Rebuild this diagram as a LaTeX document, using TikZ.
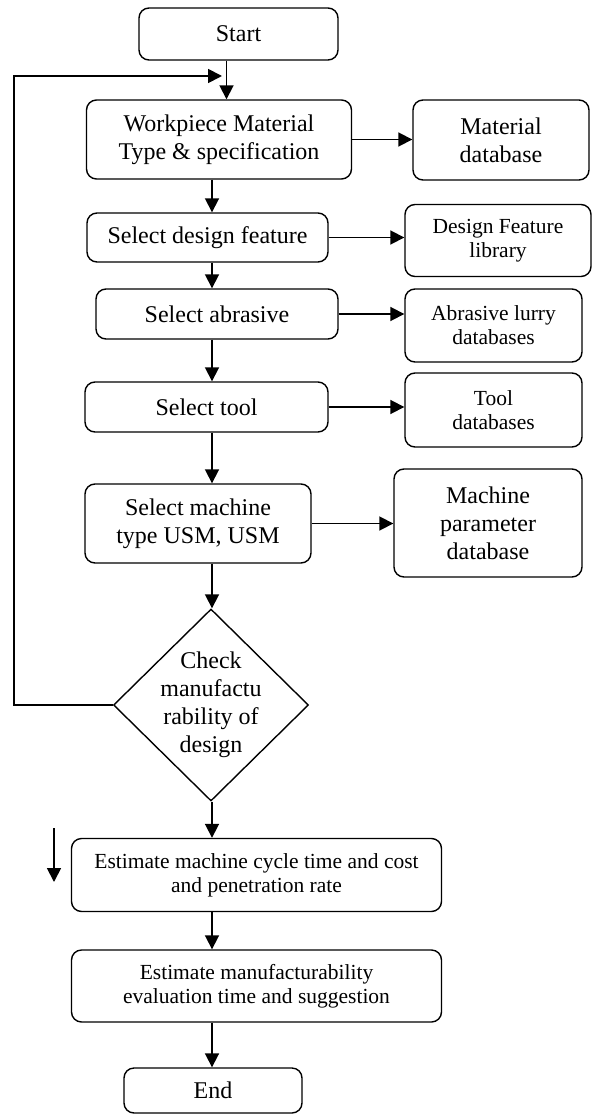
\documentclass[tikz,border=0pt]{standalone}
\usepackage{fontspec}
\setmainfont{Liberation Serif}
\usetikzlibrary{arrows.meta,shapes.geometric}

\begin{document}
\begin{tikzpicture}[x=1pt,y=-1pt,
    box/.style={draw, line width=1.4pt, rounded corners=10pt, align=center, inner sep=0pt,
        font=\fontsize{24}{28}\selectfont},
    smallbox/.style={box, font=\fontsize{21.5}{24}\selectfont},
    decision/.style={draw, diamond, line width=1.4pt, align=center, inner sep=-12pt,
        minimum width=195pt, minimum height=192pt, font=\fontsize{24}{28}\selectfont},
    flow/.style={line width=1.8pt, -{Triangle[length=14pt,width=14pt]}}]

                \useasboundingbox (0,0) rectangle (591,1115);

                % Main column
                \node[box, minimum width=199pt, minimum height=52pt] (start) at (238.5,34) {Start};
                \node[box, minimum width=265pt, minimum height=79pt] (work) at (219,139.5) {Workpiece Material\\Type \& specification};
                \node[box, minimum width=241pt, minimum height=49pt] (design) at (207.5,237.5) {Select design feature};
                \node[box, minimum width=242pt, minimum height=50pt] (abrasive) at (217,314) {Select abrasive};
                \node[box, minimum width=243pt, minimum height=50pt] (tool) at (206.5,407) {Select tool};
                \node[box, minimum width=226pt, minimum height=79pt] (machine) at (198,523.5) {Select machine\\type USM, USM};
                \node[decision] (check) at (211,705) {Check\\manufactu\\rability of\\design};
                \node[smallbox, minimum width=370pt, minimum height=73pt] (cycle) at (256.5,875) {Estimate machine cycle time and cost\\and penetration rate};
                \node[smallbox, minimum width=370pt, minimum height=72pt] (evaluate) at (256.5,986) {Estimate manufacturability\\evaluation time and suggestion};
                \node[box, minimum width=178pt, minimum height=45pt] (end) at (213,1090.5) {End};

                % Databases on the right
                \node[box, minimum width=176pt, minimum height=80pt] (matdb) at (501,140) {Material\\database};
                \node[smallbox, minimum width=186pt, minimum height=72pt] (featlib) at (498,240.5) {Design Feature\\library};
                \node[smallbox, minimum width=177pt, minimum height=73pt] (slurrydb) at (493.5,325.5) {Abrasive lurry\\databases};
                \node[smallbox, minimum width=177pt, minimum height=74pt] (tooldb) at (493.5,410) {Tool\\databases};
                \node[box, minimum width=188pt, minimum height=108pt] (paramdb) at (488,523) {Machine\\parameter\\database};

                % Helper points
                \coordinate (spine) at (212,0);
                \coordinate (back) at (14,76);
                \coordinate (join) at (222,76);
                \coordinate (stray) at (54,828);
                \coordinate (strayend) at (54,882);

                % Arrows down the main column
                \draw[flow] ([xshift=-12pt]start.south) -- ([xshift=-12pt]start.south |- work.north);
                \draw[flow] (work.south -| spine) -- (design.north -| spine);
                \draw[flow] (design.south -| spine) -- (abrasive.north -| spine);
                \draw[flow] (abrasive.south -| spine) -- (tool.north -| spine);
                \draw[flow] (tool.south -| spine) -- (machine.north -| spine);
                \draw[flow] (machine.south -| spine) -- (check.north -| spine);
                \draw[flow] (check.south -| spine) -- (cycle.north -| spine);
                \draw[flow] (cycle.south -| spine) -- (evaluate.north -| spine);
                \draw[flow] (evaluate.south -| spine) -- (end.north -| spine);

                % Arrows out to the databases
                \draw[flow] (work.east) -- (work.east -| matdb.west);
                \draw[flow] (design.east) -- (design.east -| featlib.west);
                \draw[flow] (abrasive.east) -- (abrasive.east -| slurrydb.west);
                \draw[flow] (tool.east) -- (tool.east -| tooldb.west);
                \draw[flow] (machine.east) -- (machine.east -| paramdb.west);

                % Loop back from the check
                \draw[flow] (check.west) -| (back) -- (join);
                \draw[flow] (stray) -- (strayend);
            \end{tikzpicture}
\end{document}
